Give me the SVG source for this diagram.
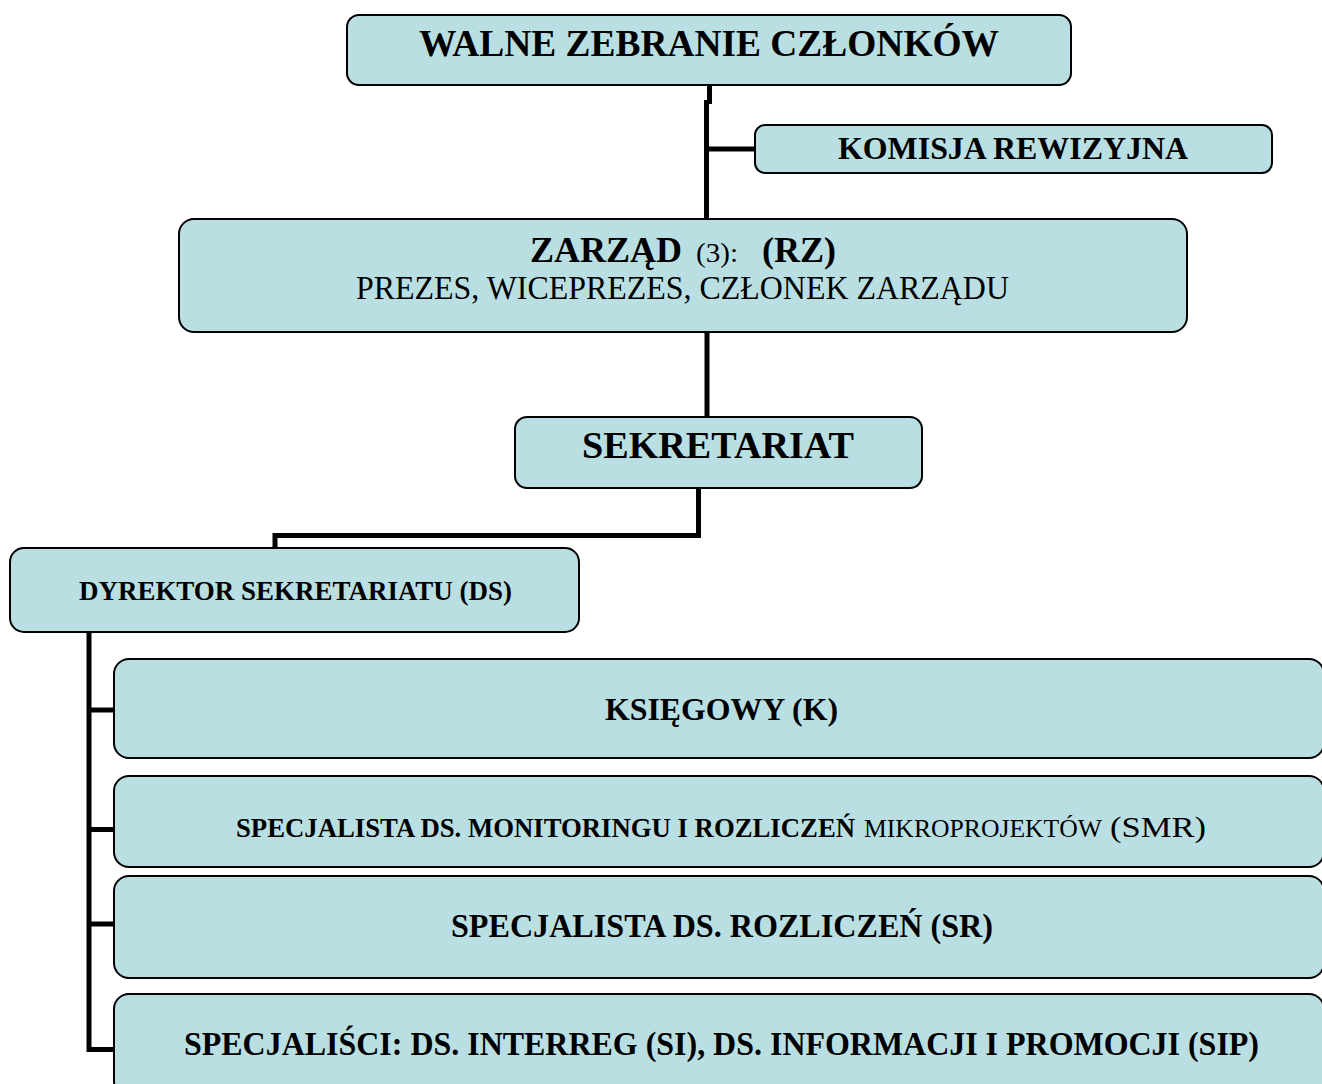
<svg xmlns="http://www.w3.org/2000/svg" width="1322" height="1084" viewBox="0 0 1322 1084">
<style>
.box{fill:#BADFE3;stroke:#000;stroke-width:2}
.t{font-family:"Liberation Serif","Times New Roman",serif;fill:#000}
.b{font-weight:bold}
.c{text-anchor:middle}
.con{fill:none;stroke:#000;stroke-width:5}
</style>
<rect width="1322" height="1084" fill="#fff"/>
<g id="connectors">
<path class="con" d="M709.5,86 V104"/>
<path class="con" d="M706.5,100 V219"/>
<path class="con" d="M706.5,149 H755"/>
<path class="con" d="M707,332 V418"/>
<path class="con" d="M698.5,488 V535.5 H275 V548"/>
<path class="con" d="M89,632 V1049.5 H114"/>
<path class="con" d="M89,710 H114 M89,829.5 H114 M89,924 H114"/>
</g>
<g id="walne">
<rect class="box" x="347" y="15" width="724" height="70" rx="12"/>
<text class="t b c" x="709" y="56" font-size="38" textLength="580" lengthAdjust="spacingAndGlyphs">WALNE ZEBRANIE CZŁONKÓW</text>
</g>
<g id="komisja">
<rect class="box" x="755" y="125" width="517" height="48" rx="10"/>
<text class="t b c" x="1013" y="159" font-size="32" textLength="350" lengthAdjust="spacingAndGlyphs">KOMISJA REWIZYJNA</text>
</g>
<g id="zarzad">
<rect class="box" x="179" y="219" width="1008" height="113" rx="15"/>
<text class="t b" x="530" y="262" font-size="36" textLength="152" lengthAdjust="spacingAndGlyphs">ZARZĄD</text>
<text class="t" x="696" y="262" font-size="27" textLength="42" lengthAdjust="spacingAndGlyphs">(3):</text>
<text class="t b" x="762" y="262" font-size="36" textLength="74" lengthAdjust="spacingAndGlyphs">(RZ)</text>
<text class="t c" x="682.5" y="299" font-size="33" textLength="653" lengthAdjust="spacingAndGlyphs">PREZES, WICEPREZES, CZŁONEK ZARZĄDU</text>
</g>
<g id="sekretariat">
<rect class="box" x="515" y="417" width="407" height="71" rx="12"/>
<text class="t b c" x="718" y="458" font-size="38" textLength="272" lengthAdjust="spacingAndGlyphs">SEKRETARIAT</text>
</g>
<g id="dyrektor">
<rect class="box" x="10" y="548" width="569" height="84" rx="14"/>
<text class="t b c" x="295.5" y="600" font-size="28" textLength="433" lengthAdjust="spacingAndGlyphs">DYREKTOR SEKRETARIATU (DS)</text>
</g>
<g id="ksiegowy">
<rect class="box" x="114" y="659" width="1210" height="99" rx="15"/>
<text class="t b c" x="721.5" y="720" font-size="31" textLength="233" lengthAdjust="spacingAndGlyphs">KSIĘGOWY (K)</text>
</g>
<g id="smr">
<rect class="box" x="114" y="776" width="1210" height="91" rx="15"/>
<text class="t b" x="236" y="837" font-size="27" textLength="619" lengthAdjust="spacingAndGlyphs">SPECJALISTA DS. MONITORINGU I ROZLICZEŃ</text>
<text class="t" x="864" y="837" font-size="25" textLength="238" lengthAdjust="spacingAndGlyphs">MIKROPROJEKTÓW</text>
<text class="t" x="1110" y="837" font-size="29" textLength="96" lengthAdjust="spacingAndGlyphs">(SMR)</text>
</g>
<g id="sr">
<rect class="box" x="114" y="876" width="1210" height="102" rx="15"/>
<text class="t b c" x="722" y="937" font-size="33" textLength="542" lengthAdjust="spacingAndGlyphs">SPECJALISTA DS. ROZLICZEŃ (SR)</text>
</g>
<g id="sip">
<rect class="box" x="114" y="994" width="1210" height="102" rx="15"/>
<text class="t b c" x="721.5" y="1055" font-size="33" textLength="1075" lengthAdjust="spacingAndGlyphs">SPECJALIŚCI: DS. INTERREG (SI), DS. INFORMACJI I PROMOCJI (SIP)</text>
</g>
</svg>
